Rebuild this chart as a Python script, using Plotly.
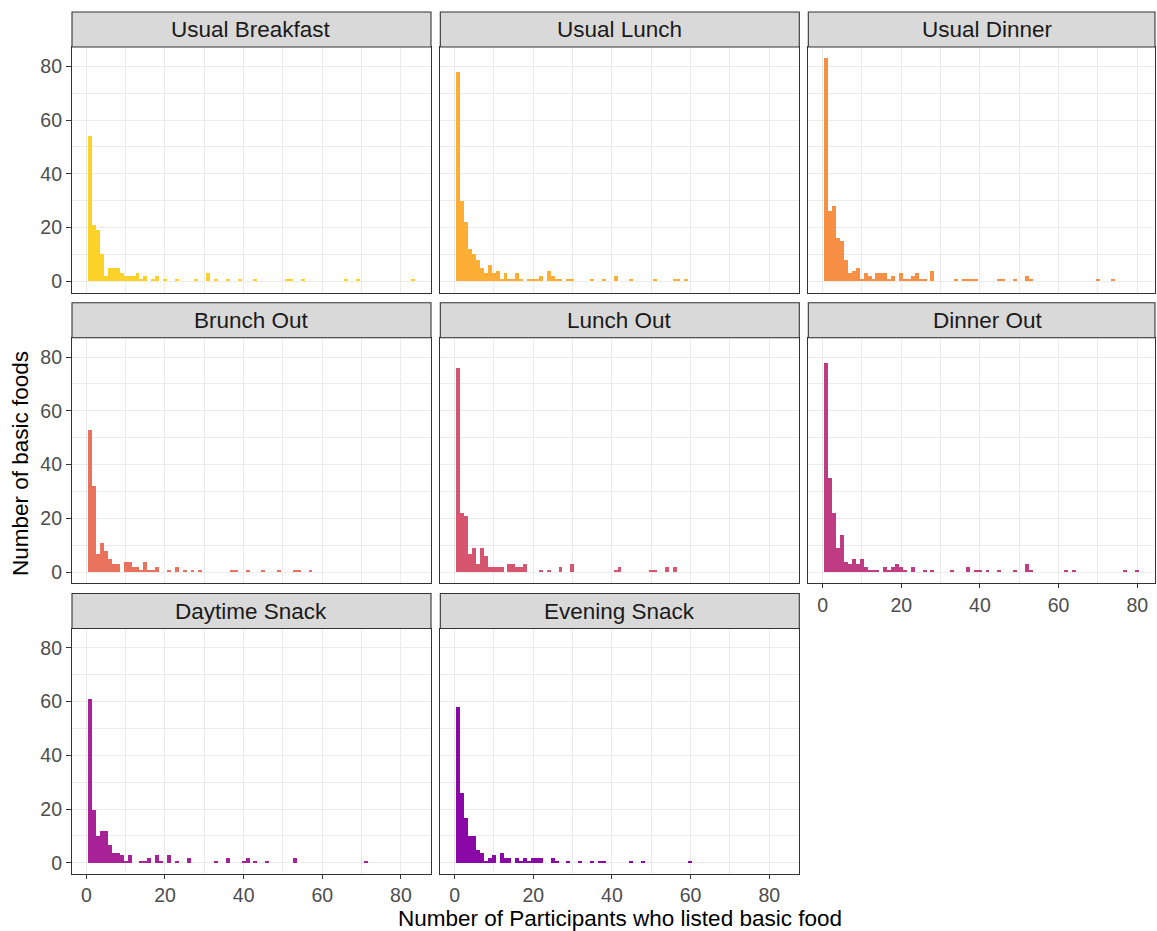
import plotly.graph_objects as go

# Histogram counts (binwidth 1) per meal occasion:
# *_x = number of participants who listed the food, *_n = number of basic foods
breakfast_x = [1, 2, 3, 4, 5, 6, 7, 8, 9, 10, 11, 12, 13, 14, 15, 17, 18, 20, 23, 28, 31, 33, 36, 39, 43, 51, 52, 55, 66, 69, 83]
breakfast_n = [54, 21, 19, 10, 2, 5, 5, 5, 3, 2, 2, 2, 3, 1, 2, 1, 2, 1, 1, 1, 3, 1, 1, 1, 1, 1, 1, 1, 1, 1, 1]

lunch_x = [1, 2, 3, 4, 5, 6, 7, 8, 9, 10, 11, 12, 13, 14, 15, 16, 17, 19, 20, 21, 22, 24, 25, 26, 27, 29, 30, 35, 38, 41, 45, 51, 56, 57, 59]
lunch_n = [78, 30, 22, 12, 10, 8, 5, 3, 6, 3, 4, 1, 3, 1, 1, 3, 1, 1, 1, 1, 2, 4, 2, 1, 1, 1, 1, 1, 1, 2, 1, 1, 1, 1, 1]

dinner_x = [1, 2, 3, 4, 5, 6, 7, 8, 9, 10, 11, 12, 13, 14, 15, 16, 17, 18, 20, 21, 22, 23, 24, 25, 26, 28, 34, 36, 37, 38, 39, 45, 46, 49, 52, 53, 70, 74]
dinner_n = [83, 26, 28, 16, 15, 8, 3, 4, 5, 1, 3, 2, 1, 3, 3, 3, 1, 2, 3, 1, 1, 2, 3, 1, 1, 4, 1, 1, 1, 1, 1, 1, 1, 1, 2, 1, 1, 1]

brunch_out_x = [1, 2, 3, 4, 5, 6, 7, 8, 10, 11, 12, 13, 14, 15, 16, 17, 18, 21, 23, 25, 27, 29, 37, 38, 41, 45, 49, 53, 54, 57]
brunch_out_n = [53, 32, 7, 11, 8, 5, 3, 3, 4, 4, 2, 2, 1, 4, 1, 1, 2, 1, 2, 1, 1, 1, 1, 1, 1, 1, 1, 1, 1, 1]

lunch_out_x = [1, 2, 3, 4, 5, 6, 7, 8, 9, 10, 11, 12, 14, 15, 16, 17, 18, 22, 24, 27, 30, 41, 42, 50, 51, 54, 56]
lunch_out_n = [76, 22, 21, 7, 9, 3, 9, 6, 2, 2, 2, 2, 3, 3, 2, 2, 3, 1, 1, 2, 3, 1, 2, 1, 1, 2, 2]

dinner_out_x = [1, 2, 3, 4, 5, 6, 7, 8, 9, 10, 11, 12, 13, 14, 16, 17, 18, 19, 20, 21, 23, 26, 28, 33, 37, 39, 40, 42, 45, 49, 52, 53, 62, 64, 77, 80]
dinner_out_n = [78, 35, 22, 9, 14, 4, 3, 5, 3, 5, 2, 1, 1, 1, 2, 1, 2, 3, 2, 1, 2, 1, 1, 1, 2, 1, 1, 1, 1, 1, 3, 1, 1, 1, 1, 1]

day_snack_x = [1, 2, 3, 4, 5, 6, 7, 8, 9, 10, 11, 14, 15, 16, 18, 19, 21, 23, 26, 33, 36, 40, 41, 43, 46, 53, 71]
day_snack_n = [61, 20, 10, 12, 12, 7, 4, 4, 3, 1, 3, 1, 1, 2, 3, 1, 3, 1, 2, 1, 2, 1, 2, 1, 1, 2, 1]

eve_snack_x = [1, 2, 3, 4, 5, 6, 7, 8, 9, 10, 12, 13, 14, 16, 17, 18, 19, 20, 21, 22, 25, 26, 29, 32, 35, 37, 38, 45, 48, 60]
eve_snack_n = [58, 26, 17, 10, 10, 5, 4, 1, 2, 3, 4, 2, 2, 2, 1, 2, 1, 2, 2, 2, 2, 1, 1, 1, 1, 1, 1, 1, 1, 1]

panel_titles = ["Usual Breakfast", "Usual Lunch", "Usual Dinner",
                "Brunch Out", "Lunch Out", "Dinner Out",
                "Daytime Snack", "Evening Snack"]
panel_x = [breakfast_x, lunch_x, dinner_x, brunch_out_x, lunch_out_x,
           dinner_out_x, day_snack_x, eve_snack_x]
panel_n = [breakfast_n, lunch_n, dinner_n, brunch_out_n, lunch_out_n,
           dinner_out_n, day_snack_n, eve_snack_n]
panel_colors = ["#FDD228", "#FDAE35", "#F79045", "#E8725C",
                "#D5566E", "#C03C82", "#A72197", "#8A08A5"]

x_ticks = [0, 20, 40, 60, 80]
y_ticks = [0, 20, 40, 60, 80]

W, H = 1157, 931
FONT = "Liberation Sans, Arial, sans-serif"

# panel geometry in pixels
col_left = [72.0, 440.3, 808.3]
col_width = 359.0
row_top = [12.0, 302.8, 593.5]
strip_h = 35.0
plot_h = 245.5
x_lo, x_hi = -3.65, 87.65
y_lo, y_hi = -4.15, 87.15
px_per_unit = col_width / (x_hi - x_lo)
right_edge = 1155.0

fig = go.Figure()
shapes = []
annotations = []

for i, title in enumerate(panel_titles):
    r, c = divmod(i, 3)
    left = col_left[c]
    right = min(left + col_width, right_edge)
    top_strip = row_top[r]
    top_plot = top_strip + strip_h
    bottom_plot = top_plot + plot_h
    xr_hi = x_lo + (right - left) / px_per_unit

    k = "" if i == 0 else str(i + 1)
    show_x = (r == 2) or (i == 5)
    show_y = (c == 0)

    fig.add_trace(go.Bar(
        x=panel_x[i], y=panel_n[i], width=1.0,
        marker=dict(color=panel_colors[i], line=dict(width=0)),
        xaxis="x" + k, yaxis="y" + k, showlegend=False,
        hovertemplate="%{x}: %{y}<extra></extra>",
    ))

    grid = "#EBEBEB"
    xaxis = dict(
        domain=[left / W, right / W], anchor="y" + k,
        range=[x_lo, xr_hi], tickmode="array", tickvals=x_ticks,
        showgrid=True, gridcolor=grid, gridwidth=1.1, zeroline=False,
        minor=dict(tickmode="array", tickvals=[10, 30, 50, 70],
                   showgrid=True, gridcolor=grid, gridwidth=0.55, ticks=""),
        showline=True, mirror=True, linecolor="#333333", linewidth=1.1,
        showticklabels=show_x, ticks="outside" if show_x else "",
        ticklen=4, tickwidth=1.1, tickcolor="#333333",
        tickfont=dict(family=FONT, size=19.5, color="#4D4D4D"),
        fixedrange=True,
    )
    yaxis = dict(
        domain=[1 - bottom_plot / H, 1 - top_plot / H], anchor="x" + k,
        range=[y_lo, y_hi], tickmode="array", tickvals=y_ticks,
        showgrid=True, gridcolor=grid, gridwidth=1.1, zeroline=False,
        minor=dict(tickmode="array", tickvals=[10, 30, 50, 70],
                   showgrid=True, gridcolor=grid, gridwidth=0.55, ticks=""),
        showline=True, mirror=True, linecolor="#333333", linewidth=1.1,
        showticklabels=show_y, ticks="outside" if show_y else "",
        ticklen=5, tickwidth=1.1, tickcolor="#333333",
        tickfont=dict(family=FONT, size=19.5, color="#4D4D4D"),
        fixedrange=True,
    )
    fig.update_layout({"xaxis" + k: xaxis, "yaxis" + k: yaxis})

    # facet strip
    shapes.append(dict(
        type="rect", xref="paper", yref="paper",
        x0=left / W, x1=right / W,
        y0=1 - top_plot / H, y1=1 - top_strip / H,
        fillcolor="#D9D9D9", line=dict(color="#333333", width=1.1),
        layer="above",
    ))
    annotations.append(dict(
        text=title, xref="paper", yref="paper",
        x=(left + left + col_width) / 2 / W, y=1 - (top_strip + strip_h / 2) / H,
        xanchor="center", yanchor="middle", showarrow=False,
        font=dict(family=FONT, size=22.5, color="#1A1A1A"),
    ))

# axis titles
annotations.append(dict(
    text="Number of Participants who listed basic food",
    xref="paper", yref="paper", x=619.5 / W, y=1 - 918.5 / H,
    xanchor="center", yanchor="middle", showarrow=False, borderpad=0,
    font=dict(family=FONT, size=22.5, color="#000000"),
))
annotations.append(dict(
    text="Number of basic foods",
    xref="paper", yref="paper", x=20 / W, y=1 - 464 / H,
    xanchor="center", yanchor="middle", showarrow=False, textangle=-90,
    font=dict(family=FONT, size=22.5, color="#000000"),
))

fig.update_layout(
    width=W, height=H,
    margin=dict(l=0, r=0, t=0, b=0),
    paper_bgcolor="white", plot_bgcolor="white",
    bargap=0, shapes=shapes, annotations=annotations,
    font=dict(family=FONT),
)

fig.write_html("out.html", config={"displayModeBar": False})
